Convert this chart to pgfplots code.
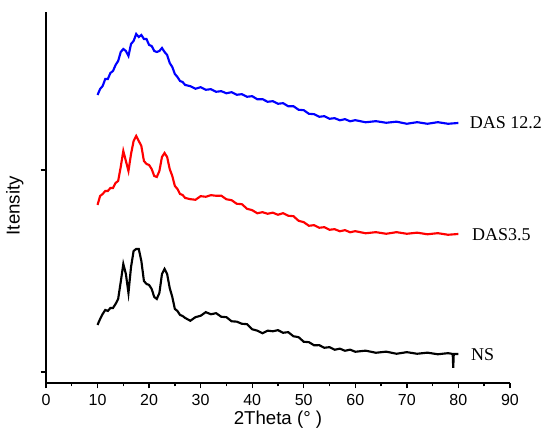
\documentclass[border=0pt]{standalone}
\usepackage{fontspec}
\setmainfont{Liberation Sans}
\newfontfamily\tnr{Liberation Serif}
\usepackage{pgfplots}
\pgfplotsset{compat=1.18}

\begin{document}
\begin{tikzpicture}
\begin{axis}[
  width=348pt, height=278.25pt, scale only axis,
  xmin=0, xmax=90, ymin=0, ymax=371,
  axis x line*=bottom, axis y line*=left,
  axis line style={line width=1.1pt},
  xtick={0,10,...,90}, minor xtick={5,15,...,85},
  /pgf/number format/assume math mode=true,
  xticklabel={\fontsize{12}{14}\selectfont\pgfmathprintnumber{\tick}},
  xticklabel style={yshift=-1pt},
  ytick={11,213}, yticklabels={},
  tick align=outside,
  major tick length=4pt, minor tick length=2.5pt,
  every tick/.style={line width=1pt, black},
  xlabel={2Theta (° )}, ylabel={Itensity},
  every axis x label/.style={at={(rel axis cs:0.5,-0.1)}, anchor=center,
    font=\fontsize{14}{16}\selectfont},
  every axis y label/.style={at={(rel axis cs:-0.067,0.478)}, rotate=90, anchor=center,
    font=\fontsize{14}{16}\selectfont},
  clip=false,
]
% NS
\addplot[black, line width=1.6pt] coordinates {
(10,58) (10.5,64) (11,69) (11.5,73) (12,72) (12.5,75) (13,75) (13.5,79) (14,84) (14.5,101)
(15,119) (15.5,109) (16,90) (16.5,116) (17,132) (17.5,134) (18,134) (18.5,122) (19,102) (19.5,99)
(20,98) (20.5,94) (21,86) (21.5,84) (22,90) (22.5,109) (23,114) (23.5,109) (24,95) (24.5,86)
(25,74) (25.5,72) (26,68) (26.5,67) (27,65) (28,62.2) (29,65.8) (30,67.2) (31,70.8) (32,68.7)
(33,69.8) (34,66.2) (35,65.8) (36,61.7) (37,61.3) (38,59.2) (39,58.8) (40,53.7) (41,52.3) (42,49.7)
(43,52.3) (44,51.7) (45,52.8) (46,50.2) (47,50.8) (48,46.7) (49,45.8) (50,41.2) (51,40.8) (52,37.7)
(53,37.8) (54,35.2) (55,35.8) (56,33.2) (57,34.3) (58,32.2) (59,33.3) (60,31.2) (62,32.3) (64,30.2)
(66,31.3) (68,29.2) (70,30.8) (72,29.2) (74,30.3) (76,28.7) (78,29.8)
(78.9,29) (79,15) (79.1,29) (80,29)
};
% DAS3.5
\addplot[red, line width=1.6pt] coordinates {
(10,178) (10.5,187) (11,189) (11.5,192) (12,192) (12.5,195) (13,195) (13.5,200) (14,202) (14.5,216)
(15,232) (15.5,222) (16,212) (16.5,229) (17,242) (17.5,247) (18,242) (18.5,237) (19,222) (19.5,219)
(20,218) (20.5,214) (21,207) (21.5,206) (22,212) (22.5,226) (23,230) (23.5,226) (24,214) (24.5,207)
(25,197) (25.5,194) (26,189) (26.5,188) (27,185) (28,183.8) (29,183.2) (30,186.8) (31,186.2) (32,187.8)
(33,187.2) (34,187.3) (35,183.7) (36,182.8) (37,179.2) (38,178.8) (39,174.2) (40,172.8) (41,169.7) (42,170.8)
(43,169.2) (44,170.3) (45,168.2) (46,169.8) (47,167.2) (48,166.8) (49,162.2) (50,160.8) (51,157.2) (52,157.8)
(53,155.2) (54,155.8) (55,153.2) (56,153.8) (57,151.7) (58,152.8) (59,150.7) (60,151.8) (62,149.7) (64,150.8)
(66,149.2) (68,150.8) (70,149.2) (72,150.3) (74,148.7) (76,149.8) (78,148.2) (80,149)
};
% DAS 12.2
\addplot[blue, line width=1.6pt] coordinates {
(10,288) (10.5,294) (11,297) (11.5,304) (12,304) (12.5,310) (13,312) (13.5,318) (14,322) (14.5,331)
(15,334) (15.5,332) (16,327) (16.5,339) (17,342) (17.5,349) (18,346) (18.5,348) (19,344) (19.5,344)
(20,338) (20.5,337) (21,332) (21.5,331) (22,332) (22.5,335) (23,331) (23.5,328) (24,320) (24.5,316)
(25,309) (25.5,306) (26,302) (26.5,301) (27,298) (28,296.8) (29,294.2) (30,295.8) (31,293.2) (32,293.8)
(33,291.2) (34,291.8) (35,289.7) (36,290.8) (37,288.2) (38,288.8) (39,286.2) (40,286.8) (41,283.7) (42,283.8)
(43,281.2) (44,281.8) (45,279.2) (46,279.8) (47,276.7) (48,276.8) (49,273.2) (50,272.8) (51,269.2) (52,268.8)
(53,266.2) (54,266.8) (55,264.2) (56,264.8) (57,262.7) (58,263.8) (59,261.7) (60,262.8) (62,260.7) (64,261.8)
(66,260.2) (68,261.3) (70,259.2) (72,260.8) (74,259.2) (76,260.8) (78,259.2) (80,260)
};
\node[anchor=west, font=\tnr\fontsize{13.5}{16}\selectfont, inner sep=0pt] at (axis cs:82.2,260) {DAS 12.2};
\node[anchor=west, font=\tnr\fontsize{13.5}{16}\selectfont, inner sep=0pt] at (axis cs:82.6,148) {DAS3.5};
\node[anchor=west, font=\tnr\fontsize{13.5}{16}\selectfont, inner sep=0pt] at (axis cs:82.4,28) {NS};
% page frame matching the reference margins
\path (rel axis cs:-0.0991,-0.159) rectangle (rel axis cs:1.069,1.0323);
\end{axis}
\end{tikzpicture}
\end{document}
